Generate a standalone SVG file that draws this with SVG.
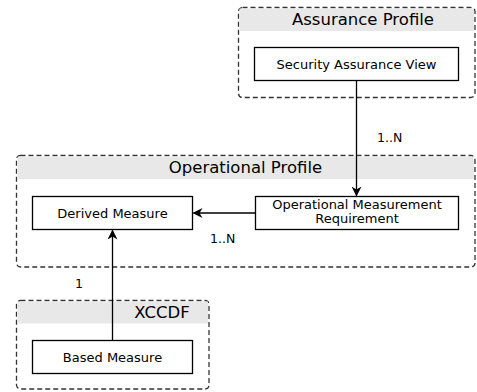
<svg xmlns="http://www.w3.org/2000/svg" width="477" height="392" viewBox="0 0 477 392">
<style>
.cont{fill:#ffffff;stroke:#333333;stroke-width:1.3;stroke-dasharray:5 3}
.band{fill:#e8e8e8}
.node{fill:#ffffff;stroke:#000000;stroke-width:1.3}
.title{font-family:"DejaVu Sans",sans-serif;font-size:16.5px;fill:#000}
.lbl{font-family:"DejaVu Sans",sans-serif;font-size:13px;fill:#000;text-anchor:middle}
.card{font-family:"DejaVu Sans",sans-serif;font-size:12.5px;fill:#000}
.edge{fill:none;stroke:#000;stroke-width:1.3}
</style>
<defs>
<marker id="arr" viewBox="0 0 10 10" refX="9" refY="5" markerWidth="10" markerHeight="10" markerUnits="userSpaceOnUse" orient="auto">
<path d="M0,0 L10,5 L0,10 L3,5 Z" fill="#000"/>
</marker>
</defs>
<g id="assurance-profile">
<rect class="cont" x="238.5" y="7.5" width="236.5" height="90" rx="4"/>
<rect class="band" x="239.5" y="8.5" width="234.5" height="22.5"/>
<text class="title" x="363" y="25" text-anchor="middle">Assurance Profile</text>
</g>
<g id="operational-profile">
<rect class="cont" x="16.5" y="155.5" width="458.5" height="111.5" rx="4"/>
<rect class="band" x="17.5" y="156.5" width="456.5" height="22.5"/>
<text class="title" x="245.5" y="172.5" text-anchor="middle">Operational Profile</text>
</g>
<g id="xccdf">
<rect class="cont" x="16.5" y="300.5" width="192.5" height="88.5" rx="4"/>
<rect class="band" x="17.5" y="301.5" width="190.5" height="22"/>
<text class="title" x="162" y="317.5" text-anchor="middle">XCCDF</text>
</g>
<g id="security-assurance-view">
<rect class="node" x="254.5" y="47.5" width="204" height="33"/>
<text class="lbl" x="356.5" y="68.5">Security Assurance View</text>
</g>
<g id="operational-measurement-requirement">
<rect class="node" x="255.5" y="196.5" width="203" height="33"/>
<text class="lbl" x="357" y="209">Operational Measurement</text>
<text class="lbl" x="357" y="223">Requirement</text>
</g>
<g id="derived-measure">
<rect class="node" x="32.5" y="196.5" width="160" height="33"/>
<text class="lbl" x="112.5" y="217.5">Derived Measure</text>
</g>
<g id="based-measure">
<rect class="node" x="32.5" y="340.5" width="160" height="33"/>
<text class="lbl" x="112.5" y="361.5">Based Measure</text>
</g>
<g id="connectors">
<line class="edge" x1="356.5" y1="80.5" x2="356.5" y2="195.5" marker-end="url(#arr)"/>
<text class="card" x="377" y="142">1..N</text>
<line class="edge" x1="255.5" y1="213" x2="193.5" y2="213" marker-end="url(#arr)"/>
<text class="card" x="210" y="243">1..N</text>
<line class="edge" x1="112.5" y1="340.5" x2="112.5" y2="230.5" marker-end="url(#arr)"/>
<text class="card" x="75" y="288">1</text>
</g>
</svg>
